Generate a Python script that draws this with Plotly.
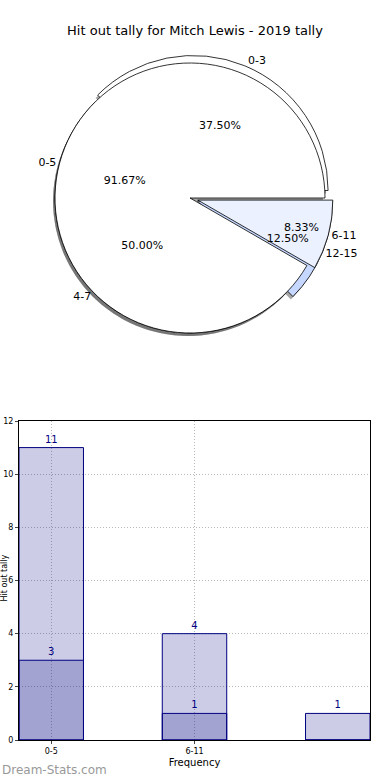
import plotly.graph_objects as go

# ---------------- data ----------------
title_text = "Hit out tally for Mitch Lewis - 2019 tally"

pie1_labels = ["0-5", "6-11"]
pie1_values = [11, 1]
pie1_colors = ["#ffffff", "#ebf1ff"]

pie2_labels = ["0-3", "4-7", "12-15"]
pie2_values = [3, 4, 1]
pie2_colors = ["#ffffff", "#ffffff", "#c6d8ff"]

categories = ["0-5", "6-11", "12-15"]
tick_categories = ["0-5", "6-11"]
bar_total = [11, 4, 1]
bar_inner = [3, 1, 0]

y_ticks = [0, 2, 4, 6, 8, 10, 12]

# ---------------- layout constants ----------------
W, H = 390, 780
ML, MR, MT, MB = 19, 20, 20, 40
PW, PH = W - ML - MR, H - MT - MB

def px_x(x):
    return (x - ML) / PW

def px_y(y):
    return (H - MB - y) / PH

cx, cy, R = 190, 198, 135
pull = 0.06
half = R * (1 + pull)
pie_dom = dict(x=[px_x(cx - half), px_x(cx + half)], y=[px_y(cy + half), px_y(cy - half)])
sdx, sdy = -2, 3
shadow_dom = dict(x=[px_x(cx - half + sdx), px_x(cx + half + sdx)],
                  y=[px_y(cy + half + sdy), px_y(cy - half + sdy)])

FONT = "DejaVu Sans"
# matplotlib-style: start at 3 o'clock, counter-clockwise -> reversed order, clockwise
pie_common = dict(sort=False, direction="clockwise", rotation=90,
                  showlegend=False, hoverinfo="skip")

pie1_pull = [0, pull]
pie2_pull = [pull, 0, pull]

pies = [
    (pie2_labels[::-1], pie2_values[::-1], pie2_colors[::-1], pie2_pull[::-1]),
    (pie1_labels[::-1], pie1_values[::-1], pie1_colors[::-1], pie1_pull[::-1]),
]

fig = go.Figure()

# shadows
for labels, values, colors, pulls in pies:
    fig.add_trace(go.Pie(labels=labels, values=values, pull=pulls, domain=shadow_dom,
                         marker=dict(colors=["rgba(60,60,60,0.45)"] * len(values),
                                     line=dict(width=0)),
                         textinfo="none", **pie_common))

# filled pies (pie 2 underneath, pie 1 on top)
for labels, values, colors, pulls in pies:
    fig.add_trace(go.Pie(labels=labels, values=values, pull=pulls, domain=pie_dom,
                         marker=dict(colors=colors, line=dict(color="black", width=0.8)),
                         textinfo="none", **pie_common))

# percentages (transparent, on top)
for labels, values, colors, pulls in pies:
    fig.add_trace(go.Pie(labels=labels, values=values, pull=pulls, domain=pie_dom,
                         marker=dict(colors=["rgba(0,0,0,0)"] * len(values),
                                     line=dict(width=0)),
                         texttemplate="%{percent:.2%}", textposition="inside",
                         insidetextorientation="horizontal",
                         textfont=dict(family=FONT, size=11, color="black"), **pie_common))

# outside labels
for labels, values, colors, pulls in pies:
    fig.add_trace(go.Pie(labels=labels, values=values, pull=pulls, domain=pie_dom,
                         marker=dict(colors=["rgba(0,0,0,0)"] * len(values),
                                     line=dict(width=0)),
                         texttemplate="%{label}", textposition="outside",
                         textfont=dict(family=FONT, size=11, color="black"),
                         automargin=False, **pie_common))

# bars
bar_fill = "rgba(0,0,128,0.2)"
for vals in [bar_total, bar_inner]:
    fig.add_trace(go.Bar(x=categories, y=vals, width=0.45,
                         marker=dict(color=bar_fill, line=dict(color="navy", width=1)),
                         text=[str(v) if v else "" for v in vals],
                         textposition="outside", cliponaxis=False,
                         textfont=dict(family=FONT, size=10, color="navy"),
                         showlegend=False, hoverinfo="skip"))

grid = dict(showgrid=True, gridcolor="#b8b8b8", griddash="1px,2px", gridwidth=1)

fig.update_layout(
    width=W, height=H, margin=dict(l=ML, r=MR, t=MT, b=MB),
    paper_bgcolor="white", plot_bgcolor="white",
    barmode="overlay",
    font=dict(family=FONT, color="black"),
    title=dict(text=title_text, x=0.5, xanchor="center", y=1 - 30 / H, yanchor="middle",
               yref="container", font=dict(family=FONT, size=13, color="black")),
    xaxis=dict(domain=[0, 1], type="category", range=[-0.225, 2.225],
               tickmode="array", tickvals=tick_categories, ticktext=tick_categories,
               tickfont=dict(size=8), ticks="outside", ticklen=3,
               showline=True, mirror=True, linecolor="black", linewidth=1,
               title=dict(text="Frequency", font=dict(size=10), standoff=4),
               automargin=False, **grid),
    yaxis=dict(domain=[0, px_y(421)], range=[0, 12], tickmode="array", tickvals=y_ticks,
               tickfont=dict(size=8), ticks="outside", ticklen=3,
               zeroline=False,
               showline=True, mirror=True, linecolor="black", linewidth=1,
               automargin=False, **grid),
)

# rotated y-axis title hugging the left edge (as in the reference)
fig.add_annotation(text="Hit out tally", xref="paper", yref="paper",
                   x=px_x(0), y=px_y(578), xanchor="left", yanchor="middle",
                   xshift=-2, textangle=-90, showarrow=False, borderpad=0,
                   font=dict(family=FONT, size=8, color="black"))

fig.add_annotation(text="Dream-Stats.com", xref="paper", yref="paper",
                   x=px_x(0), y=px_y(770), xanchor="left", yanchor="middle",
                   showarrow=False, font=dict(family="DejaVu Sans", size=12, color="#999999"))

fig.write_html("out.html", config={"displayModeBar": False},
               post_script="document.body.style.margin='0';")
